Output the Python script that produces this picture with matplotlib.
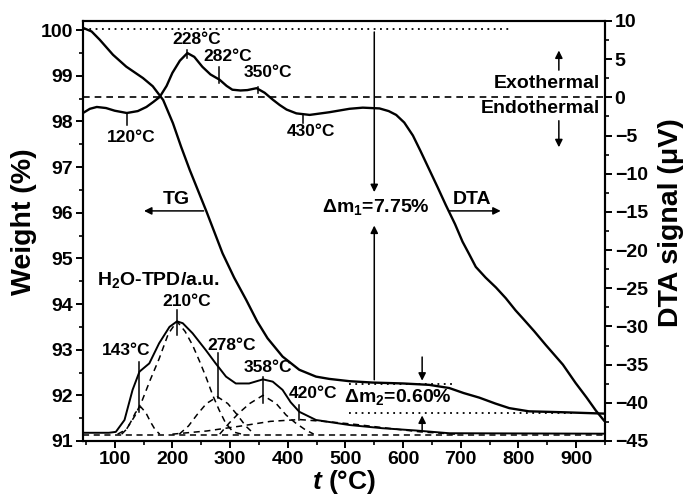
import matplotlib
matplotlib.use("Agg")
import matplotlib.pyplot as plt
from matplotlib.ticker import MultipleLocator

plt.rcParams["font.family"] = ["Liberation Sans", "DejaVu Sans"]
plt.rcParams["font.weight"] = "bold"
plt.rcParams["mathtext.fontset"] = "custom"
plt.rcParams["mathtext.rm"] = "Liberation Sans:bold"
plt.rcParams["mathtext.bf"] = "Liberation Sans:bold"
plt.rcParams["mathtext.it"] = "Liberation Sans:italic:bold"

# TG curve (weight %, left axis)
tg_t = [45, 60, 74, 97, 120, 149, 166, 184, 201, 215, 230, 259, 287, 307, 328, 347,
        365, 391, 420, 449, 472, 507, 547, 600, 645, 680, 705, 732, 760, 784, 818,
        876, 948]
tg_w = [100.05, 99.97, 99.79, 99.46, 99.2, 98.95, 98.77, 98.47, 97.96, 97.45, 96.94,
        96.03, 95.11, 94.58, 94.09, 93.62, 93.25, 92.85, 92.56, 92.41, 92.36, 92.31,
        92.28, 92.26, 92.23, 92.16, 92.05, 91.95, 91.82, 91.72, 91.65, 91.63, 91.6]

# DTA curve (uV, right axis)
dta_t = [45, 57, 69, 85, 100, 121, 140, 155, 167, 178, 190, 200, 213, 226, 238, 252,
         266, 282, 294, 304, 318, 330, 346, 360, 374, 386, 398, 415, 438, 472, 507,
         530, 559, 575, 588, 602, 617, 630, 645, 660, 674, 690, 703, 715, 726, 743,
         761, 778, 795, 807, 827, 847, 877, 899, 918, 934, 948]
dta_v = [-2.05, -1.5, -1.26, -1.4, -1.75, -2.05, -1.8, -1.26, -0.6, 0.05, 1.5, 3.2,
         4.8, 5.8, 5.3, 4.0, 3.0, 2.3, 1.5, 1.0, 0.9, 0.95, 1.2, 0.6, -0.3, -1.0,
         -1.6, -2.1, -2.3, -1.95, -1.5, -1.35, -1.45, -1.8, -2.3, -3.3, -5.0, -7.0,
         -9.4, -11.8, -14.1, -16.6, -18.9, -20.6, -22.2, -23.6, -24.9, -26.3, -27.9,
         -28.9, -30.6, -32.4, -35.0, -37.4, -39.3, -41.0, -42.3]

# H2O-TPD curve (a.u., drawn in left-axis units)
tpd_t = [45, 90, 102, 117, 131, 143, 160, 177, 195, 208, 218, 235, 258, 275, 293,
         310, 333, 357, 374, 391, 405, 420, 449, 507, 564, 622, 680, 950]
tpd_s = [91.18, 91.18, 91.2, 91.46, 92.12, 92.52, 92.7, 93.14, 93.5, 93.62, 93.58,
         93.36, 92.99, 92.7, 92.41, 92.26, 92.26, 92.35, 92.3, 92.12, 91.85, 91.64,
         91.46, 91.35, 91.28, 91.23, 91.17, 91.16]

# fitted TPD components
c143_t = [112, 120, 128, 136, 145, 154, 162, 170, 178]
c143_s = [91.15, 91.25, 91.42, 91.62, 91.75, 91.62, 91.42, 91.25, 91.15]
c210_t = [105, 120, 135, 148, 162, 177, 193, 208, 222, 235, 247, 258, 270, 281, 292, 305, 320]
c210_s = [91.15, 91.25, 91.55, 91.9, 92.35, 92.8, 93.35, 93.62, 93.4, 93.1, 92.75,
          92.41, 92.0, 91.68, 91.4, 91.2, 91.15]
c278_t = [212, 228, 243, 259, 278, 296, 312, 327, 342]
c278_s = [91.15, 91.33, 91.58, 91.82, 91.97, 91.82, 91.58, 91.33, 91.15]
c358_t = [282, 299, 316, 334, 357, 380, 397, 413, 430, 445]
c358_s = [91.15, 91.4, 91.62, 91.82, 92.0, 91.82, 91.57, 91.4, 91.25, 91.15]
c420_t = [200, 260, 320, 370, 420, 472, 520, 580, 630, 690]
c420_s = [91.15, 91.22, 91.33, 91.43, 91.47, 91.42, 91.36, 91.27, 91.2, 91.15]
base_t = [45, 950]
base_s = [91.13, 91.13]

# peak labels: (text, marker x, label x, label y, marker y0, marker y1)
dta_peaks = [("120°C", 121, 129, -5.2, -2.05, -3.6), ("228°C", 226, 242, 7.6, 6.2, 5.1),
             ("282°C", 280, 296, 5.3, 4.0, 1.9), ("350°C", 348, 365, 3.3, 1.35, 0.57),
             ("430°C", 426, 441, -4.5, -2.3, -3.4)]
tpd_peaks = [("143°C", 143, 119, 92.99, 92.74, 91.64), ("210°C", 208, 225, 94.05, 93.87, 93.32),
             ("278°C", 279, 302, 93.1, 92.93, 91.94), ("358°C", 357, 365, 92.6, 92.41, 91.83),
             ("420°C", 420, 443, 92.05, 91.79, 91.46)]

fig = plt.figure(figsize=(6.84, 4.96), dpi=100)
ax1 = fig.add_axes([0.1213, 0.1109, 0.7632, 0.8468])
ax2 = ax1.twinx()

lw = 1.7
ax1.plot(tg_t, tg_w, color="black", lw=lw)
ax1.plot(tpd_t, tpd_s, color="black", lw=1.4)
for ct, cs in [(c143_t, c143_s), (c210_t, c210_s), (c278_t, c278_s),
               (c358_t, c358_s), (c420_t, c420_s), (base_t, base_s)]:
    ax1.plot(ct, cs, color="black", lw=1.1, ls=(0, (4, 3)))
ax2.plot(dta_t, dta_v, color="black", lw=lw)

# reference lines
ax2.axhline(0, color="black", lw=1.2, ls=(0, (4, 3)))
ax1.plot([45, 787], [100.02, 100.02], color="black", lw=1.3, ls=(0, (1, 2.5)))
ax1.plot([507, 690], [92.24, 92.24], color="black", lw=1.3, ls=(0, (1, 2.5)))
ax1.plot([507, 900], [91.62, 91.62], color="black", lw=1.3, ls=(0, (1, 2.5)))

fs_small = 12.5
for txt, x, lx, ly, y0, y1 in dta_peaks:
    ax2.plot([x, x], [y0, y1], color="black", lw=1.1)
    ax2.text(lx, ly, txt, ha="center", va="center", fontsize=fs_small, fontweight="bold")
for txt, x, lx, ly, y0, y1 in tpd_peaks:
    ax1.plot([x, x], [y0, y1], color="black", lw=1.1)
    ax1.text(lx, ly, txt, ha="center", va="center", fontsize=fs_small, fontweight="bold")

arr = dict(arrowstyle="-|>", color="black", lw=1.1, mutation_scale=11)
fs_mid = 14
ax1.text(207, 96.3, "TG", ha="center", va="center", fontsize=fs_mid, fontweight="bold")
ax1.annotate("", xy=(146, 96.04), xytext=(259, 96.04), arrowprops=arr)
ax1.text(720, 96.3, "DTA", ha="center", va="center", fontsize=fs_mid, fontweight="bold")
ax1.annotate("", xy=(774, 96.04), xytext=(674, 96.04), arrowprops=arr)

ax1.annotate("", xy=(550, 96.39), xytext=(550, 100.02), arrowprops=arr)
ax1.annotate("", xy=(550, 95.78), xytext=(550, 92.28), arrowprops=arr)
ax1.text(553, 96.12, "Δm$_1$=7.75%", ha="center", va="center", fontsize=fs_mid, fontweight="bold")

ax1.annotate("", xy=(633, 92.26), xytext=(633, 92.9), arrowprops=arr)
ax1.annotate("", xy=(633, 91.62), xytext=(633, 91.18), arrowprops=arr)
ax1.text(591, 91.97, "Δm$_2$=0.60%", ha="center", va="center", fontsize=fs_mid, fontweight="bold")

ax1.text(175, 94.53, "H$_2$O-TPD/a.u.", ha="center", va="center", fontsize=fs_mid, fontweight="bold")

ax2.text(941, 1.84, "Exothermal", ha="right", va="center", fontsize=fs_mid, fontweight="bold")
ax2.text(941, -1.44, "Endothermal", ha="right", va="center", fontsize=fs_mid, fontweight="bold")
ax2.annotate("", xy=(870, 6.5), xytext=(870, 3.2), arrowprops=arr)
ax2.annotate("", xy=(870, -6.9), xytext=(870, -2.7), arrowprops=arr)

ax1.set_xlim(45, 950)
ax1.set_ylim(91, 100.2)
ax2.set_ylim(-45, 10)

ax1.xaxis.set_major_locator(MultipleLocator(100))
ax1.xaxis.set_minor_locator(MultipleLocator(50))
ax1.yaxis.set_major_locator(MultipleLocator(1))
ax1.yaxis.set_minor_locator(MultipleLocator(0.5))
ax2.yaxis.set_major_locator(MultipleLocator(5))
ax2.yaxis.set_minor_locator(MultipleLocator(2.5))

for ax in (ax1, ax2):
    for sp in ax.spines.values():
        sp.set_linewidth(1.5)
    ax.tick_params(which="major", length=5, width=1.4, labelsize=14, pad=2)
    ax.tick_params(which="minor", length=3, width=1.2)
ax1.tick_params(axis="x", which="both", top=False)
for lab in ax1.get_xticklabels() + ax1.get_yticklabels() + ax2.get_yticklabels():
    lab.set_fontweight("bold")

ax1.set_xlabel("$t$ (°C)", fontsize=19, fontweight="bold", labelpad=0)
ax1.set_ylabel("Weight (%)", fontsize=20.5, fontweight="bold")
ax2.set_ylabel("DTA signal (μV)", fontsize=20.5, fontweight="bold")
ax1.yaxis.set_label_coords(-0.088, 0.521)
ax2.yaxis.set_label_coords(1.1015, 0.521)

fig.savefig("out.png", dpi=100)
